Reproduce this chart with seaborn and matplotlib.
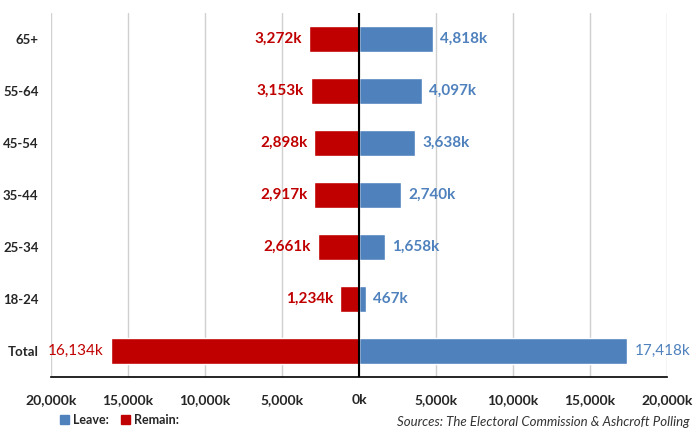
import pandas as pd
import matplotlib.pyplot as plt
import seaborn as sns
from matplotlib.patches import Patch

# Data (thousands of votes)
ages = ['65+', '55-64', '45-54', '35-44', '25-34', '18-24', 'Total']
leave = [4818, 4097, 3638, 2740, 1658, 467, 17418]
remain = [3272, 3153, 2898, 2917, 2661, 1234, 16134]
ticks = [-20000, -15000, -10000, -5000, 0, 5000, 10000, 15000, 20000]

red = '#C00000'
blue = '#4F81BD'

df = pd.concat([
    pd.DataFrame({'age': ages, 'value': leave, 'side': 'Leave'}),
    pd.DataFrame({'age': ages, 'value': [-v for v in remain], 'side': 'Remain'}),
])

sns.set_style('white')
plt.rcParams['font.family'] = ['Lato', 'DejaVu Sans']

fig = plt.figure(figsize=(7, 4.4), dpi=100)
ax = fig.add_axes([0.073, 0.143, 0.88, 0.827])

sns.barplot(data=df, y='age', x='value', hue='side', order=ages,
            palette={'Leave': blue, 'Remain': red}, dodge=False,
            width=0.5, orient='h', legend=False, ax=ax, saturation=1)

ax.set_xlim(-20000, 20000)
ax.set_ylim(6.5, -0.5)
ax.set_xticks(ticks)
ax.set_xticklabels([f'{abs(t):,}k' for t in ticks], fontweight='bold', fontsize=10)
ax.set_yticks(range(len(ages)))
ax.set_yticklabels(ages, fontweight='bold', fontsize=9.5)
ax.tick_params(axis='x', length=4, width=1.2, color='black', direction='out', pad=8)
ax.tick_params(axis='y', length=0, pad=9)
ax.set_xlabel('')
ax.set_ylabel('')
ax.grid(axis='x', color='#D0D0D0', lw=1)
ax.set_axisbelow(True)
for s in ['top', 'right', 'left']:
    ax.spines[s].set_visible(False)
ax.spines['bottom'].set_color('black')
ax.spines['bottom'].set_linewidth(1.2)
ax.axvline(0, color='black', lw=1.5)

# value labels
for i, (l, r) in enumerate(zip(leave, remain)):
    w = 'normal' if ages[i] == 'Total' else 'bold'
    ax.annotate(f'{l:,}k', (l, i), xytext=(5, 0), textcoords='offset points',
                ha='left', va='center', color=blue, fontsize=11, fontweight=w)
    ax.annotate(f'{r:,}k', (-r, i), xytext=(-5, 0), textcoords='offset points',
                ha='right', va='center', color=red, fontsize=11, fontweight=w)

handles = [Patch(color=blue, label='Leave:'), Patch(color=red, label='Remain:')]
fig.legend(handles=handles, loc='center left', bbox_to_anchor=(0.07, 0.045), ncol=2,
           frameon=False, handlelength=0.7, handleheight=0.7, handletextpad=0.3,
           columnspacing=1.0, prop={'weight': 'bold', 'size': 9})

fig.text(0.985, 0.04, 'Sources: The Electoral Commission & Ashcroft Polling',
         ha='right', va='center', style='italic', fontsize=9.5, color='#333333')

fig.savefig('out.png', dpi=100)
